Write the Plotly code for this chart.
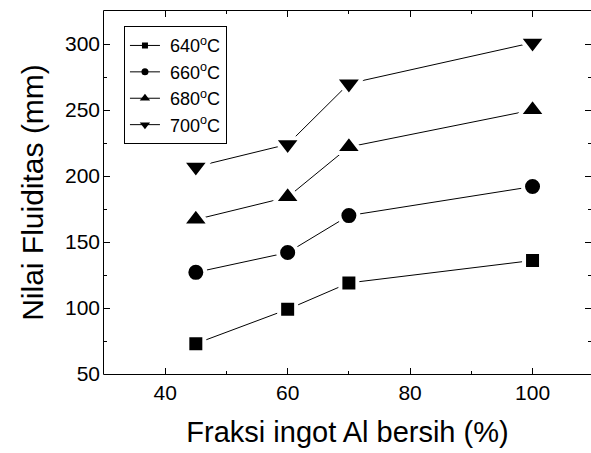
import plotly.graph_objects as go

x_vals = [45, 60, 70, 100]
series_names = ["\u00a0640<sup>o</sup>C", "\u00a0660<sup>o</sup>C", "\u00a0680<sup>o</sup>C", "\u00a0700<sup>o</sup>C"]
y_640 = [73, 99, 119, 136]
y_660 = [127, 142, 170, 192]
y_680 = [167, 184, 222, 250]
y_700 = [207, 224, 270, 301]
series_values = [y_640, y_660, y_680, y_700]
symbols = ["square", "circle", "triangle-up", "triangle-down"]
# marker sizes include a white halo that leaves a small gap between line and marker
sizes = [17, 19, 24, 24]
legend_sizes = [6, 7, 9, 9]

FONT = "Liberation Sans, Arial, sans-serif"

fig = go.Figure()
for name, yv, sym, sz in zip(series_names, series_values, symbols, sizes):
    fig.add_trace(go.Scatter(
        x=x_vals, y=yv, name=name, mode="lines+markers", showlegend=False,
        line=dict(color="black", width=1),
        marker=dict(symbol=sym, size=sz, color="black", line=dict(width=4, color="white")),
    ))
for name, sym, sz in zip(series_names, symbols, legend_sizes):
    fig.add_trace(go.Scatter(
        x=[None], y=[None], name=name, mode="lines+markers",
        line=dict(color="black", width=1),
        marker=dict(symbol=sym, size=sz, color="black", line=dict(width=0)),
    ))

axis_common = dict(
    linecolor="black", linewidth=1,
    ticks="inside", ticklen=6, tickwidth=1, tickcolor="black",
    showgrid=False, zeroline=False,
    tickfont=dict(family=FONT, size=21, color="black"),
)

fig.update_layout(
    width=591, height=453,
    margin=dict(l=104, r=0, t=11, b=79),
    paper_bgcolor="white", plot_bgcolor="white",
    font=dict(family=FONT, color="black"),
    xaxis=dict(
        range=[30, 109.55], tickvals=[40, 60, 80, 100], mirror="ticks", showline=True,
        minor=dict(ticks="inside", ticklen=3, dtick=10, tick0=0, tickcolor="black"),
        title=dict(text="Fraksi ingot Al bersih (%)", font=dict(family=FONT, size=29, color="black"), standoff=18),
        **axis_common,
    ),
    yaxis=dict(
        range=[50, 325], tickvals=[50, 100, 150, 200, 250, 300], mirror="ticks", showline=False,
        minor=dict(ticks="inside", ticklen=3, dtick=25, tick0=0, tickcolor="black"),
        ticklabelstandoff=3,
        title=dict(text="Nilai Fluiditas (mm)", font=dict(family=FONT, size=30, color="black"), standoff=12),
        **axis_common,
    ),
    legend=dict(
        x=0.041, y=0.958, xanchor="left", yanchor="top",
        bordercolor="black", borderwidth=1, bgcolor="white",
        font=dict(family=FONT, size=18, color="black"),
    ),
    shapes=[dict(type="line", xref="paper", yref="paper", x0=-0.001, x1=-0.001, y0=-0.002, y1=1.002,
                 line=dict(color="black", width=1))],
    showlegend=True,
)

fig.write_html("out.html")
